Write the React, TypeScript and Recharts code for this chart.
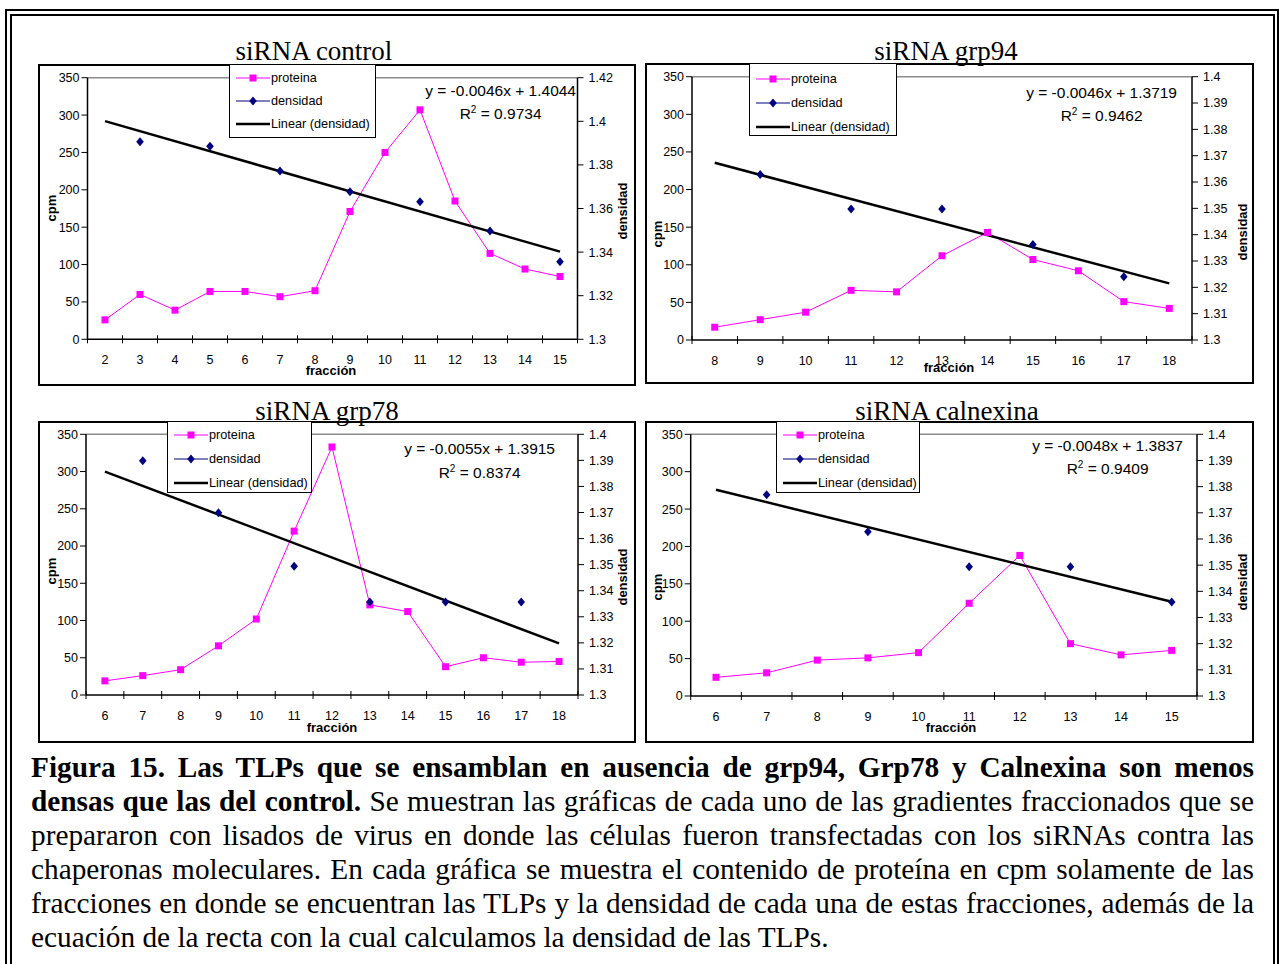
import React from "react";
import { ComposedChart, Line, XAxis, YAxis, ReferenceLine } from "recharts";

const SANS = '"Liberation Sans", Arial, sans-serif';
const SERIF = '"Liberation Serif", "Times New Roman", serif';

// --- siRNA control ---
const fraccionControl = [2, 3, 4, 5, 6, 7, 8, 9, 10, 11, 12, 13, 14, 15];
const proteinaControl = [26, 60, 39, 64, 64, 57, 65, 171, 250, 307, 185, 115, 94, 84];
const densidadControl = [null, 1.3906, null, 1.3886, null, 1.3772, null, 1.3677, null, 1.3631, null, 1.3497, null, 1.3356];
const tendenciaControl = [1.4001, null, null, null, null, null, null, null, null, null, null, null, null, 1.3402];

// --- siRNA grp94 ---
const fraccionGrp94 = [8, 9, 10, 11, 12, 13, 14, 15, 16, 17, 18];
const proteinaGrp94 = [17, 27, 37, 66, 64, 112, 143, 107, 92, 51, 42];
const densidadGrp94 = [null, 1.3629, null, 1.3498, null, 1.3498, null, 1.3363, null, 1.324, null];
const tendenciaGrp94 = [1.3673, null, null, null, null, null, null, null, null, null, 1.3215];

// --- siRNA grp78 ---
const fraccionGrp78 = [6, 7, 8, 9, 10, 11, 12, 13, 14, 15, 16, 17, 18];
const proteinaGrp78 = [19, 26, 34, 66, 102, 220, 333, 121, 112, 38, 50, 44, 45];
const densidadGrp78 = [null, 1.3899, null, 1.3699, null, 1.3494, null, 1.3357, null, 1.3357, null, 1.3357, null];
const tendenciaGrp78 = [1.3857, null, null, null, null, null, null, null, null, null, null, null, 1.3198];

// --- siRNA calnexina ---
const fraccionCalnexina = [6, 7, 8, 9, 10, 11, 12, 13, 14, 15];
const proteinaCalnexina = [25, 31, 48, 51, 58, 124, 188, 70, 55, 61];
const densidadCalnexina = [null, 1.3769, null, 1.3628, null, 1.3494, null, 1.3494, null, 1.3359];
const tendenciaCalnexina = [1.3788, null, null, null, null, null, null, null, null, 1.336];

const ticksCpm = [0, 50, 100, 150, 200, 250, 300, 350];
const ticksDensidadControl = [1.3, 1.32, 1.34, 1.36, 1.38, 1.4, 1.42];
const ticksDensidad = [1.3, 1.31, 1.32, 1.33, 1.34, 1.35, 1.36, 1.37, 1.38, 1.39, 1.4];

const paneles = [
  {
    titulo: "siRNA control", tituloPos: [314, 60],
    fracciones: fraccionControl, proteina: proteinaControl, densidad: densidadControl, tendencia: tendenciaControl,
    ticksDer: ticksDensidadControl, etiquetaProteina: "proteina",
    ecuacion: "y = -0.0046x + 1.4044", r2: "0.9734", ec: [576, 90, 113],
    frame: { x: 38, y: 64, w: 598, h: 322 }, plot: { l: 87.5, r: 577.5, t: 77.7, b: 339.3 },
    leyenda: { x: 229, y: 64, w: 147, h: 74, filas: [77, 100, 123] },
    cpm: [52, 208], dens: [623, 211], frac: [331, 371],
  },
  {
    titulo: "siRNA grp94", tituloPos: [946, 60],
    fracciones: fraccionGrp94, proteina: proteinaGrp94, densidad: densidadGrp94, tendencia: tendenciaGrp94,
    ticksDer: ticksDensidad, etiquetaProteina: "proteina",
    ecuacion: "y = -0.0046x + 1.3719", r2: "0.9462", ec: [1177, 92, 115],
    frame: { x: 645, y: 63, w: 609, h: 321 }, plot: { l: 692, r: 1192, t: 76.7, b: 340 },
    leyenda: { x: 749, y: 63, w: 148, h: 73, filas: [78, 102, 126] },
    cpm: [658, 234], dens: [1243, 232], frac: [949, 368],
  },
  {
    titulo: "siRNA grp78", tituloPos: [327, 420],
    fracciones: fraccionGrp78, proteina: proteinaGrp78, densidad: densidadGrp78, tendencia: tendenciaGrp78,
    ticksDer: ticksDensidad, etiquetaProteina: "proteina",
    ecuacion: "y = -0.0055x + 1.3915", r2: "0.8374", ec: [555, 448, 472],
    frame: { x: 38, y: 421, w: 598, h: 322 }, plot: { l: 86, r: 578, t: 434.3, b: 695 },
    leyenda: { x: 167, y: 421, w: 145, h: 72, filas: [434, 458, 482] },
    cpm: [52, 571], dens: [623, 577], frac: [332, 728],
  },
  {
    titulo: "siRNA calnexina", tituloPos: [947, 420],
    fracciones: fraccionCalnexina, proteina: proteinaCalnexina, densidad: densidadCalnexina, tendencia: tendenciaCalnexina,
    ticksDer: ticksDensidad, etiquetaProteina: "proteína",
    ecuacion: "y = -0.0048x + 1.3837", r2: "0.9409", ec: [1183, 445, 468],
    frame: { x: 645, y: 421, w: 609, h: 322 }, plot: { l: 690.7, r: 1197, t: 434.3, b: 696 },
    leyenda: { x: 776, y: 421, w: 144, h: 72, filas: [434, 458, 482] },
    cpm: [658, 587], dens: [1243, 582], frac: [951, 728],
  },
];

const lineasPie = [
  { negrita: "Figura 15. Las TLPs que se ensamblan en ausencia de grp94, Grp78 y Calnexina son menos", resto: "" },
  { negrita: "densas que las del control.", resto: " Se muestran las gráficas de cada uno de las gradientes fraccionados que se" },
  { negrita: "", resto: "prepararon con lisados de virus en donde las células fueron transfectadas con los siRNAs contra las" },
  { negrita: "", resto: "chaperonas moleculares. En cada gráfica se muestra el contenido de proteína en cpm solamente de las" },
  { negrita: "", resto: "fracciones en donde se encuentran las TLPs y la densidad de cada una de estas fracciones, además de la" },
  { negrita: "", resto: "ecuación de la recta con la cual calculamos la densidad de las TLPs." },
];

const MAGENTA = "#FF00FF";
const NAVY = "#000080";

function Cuadro(props: any) {
  const { cx, cy, value, index } = props;
  if (cx == null || cy == null || value == null) return <g key={`c${index}`} />;
  return <rect key={`c${index}`} x={cx - 3.5} y={cy - 3.5} width={7} height={7} fill={MAGENTA} />;
}

function Rombo(props: any) {
  const { cx, cy, value, index } = props;
  if (cx == null || cy == null || value == null) return <g key={`r${index}`} />;
  return <path key={`r${index}`} d={`M${cx},${cy - 4.5}L${cx + 3.8},${cy}L${cx},${cy + 4.5}L${cx - 3.8},${cy}Z`} fill={NAVY} />;
}

function TickFraccion(props: any) {
  const { x, y, payload, index, banda, total } = props;
  return (
    <g>
      <line x1={x - banda / 2} x2={x - banda / 2} y1={y - 4} y2={y + 4} stroke="#000" />
      {index === total - 1 && <line x1={x + banda / 2} x2={x + banda / 2} y1={y - 4} y2={y + 4} stroke="#000" />}
      <text x={x} y={y + 24.5} textAnchor="middle" fontSize={12.5} fill="#000">{payload.value}</text>
    </g>
  );
}

function Texto({ cx, cy, children, style, rotar }: any) {
  return (
    <div
      style={{
        position: "absolute", left: cx - 60, top: cy - 10, width: 120, height: 20, lineHeight: "20px",
        textAlign: "center", whiteSpace: "nowrap", transform: rotar ? "rotate(-90deg)" : undefined, ...style,
      }}
    >
      {children}
    </div>
  );
}

function Grafica({ p }: { p: any }) {
  const { frame, plot, leyenda } = p;
  const datos = p.fracciones.map((f: number, i: number) => ({
    fraccion: f, proteina: p.proteina[i], densidad: p.densidad[i], tendencia: p.tendencia[i],
  }));
  const banda = (plot.r - plot.l) / datos.length;
  const ticksDer: number[] = p.ticksDer;
  const eje = { stroke: "#000", strokeWidth: 1.5 };
  const tituloEje = { fontFamily: SANS, fontWeight: "bold", fontSize: 13 };

  return (
    <>
      <div style={{ position: "absolute", left: frame.x, top: frame.y, width: frame.w, height: frame.h, border: "2px solid #000", boxSizing: "border-box" }} />
      <div style={{ position: "absolute", left: p.tituloPos[0] - 150, top: p.tituloPos[1] - 24, width: 300, lineHeight: "30px", textAlign: "center", fontFamily: SERIF, fontSize: 27 }}>
        {p.titulo}
      </div>
      <div style={{ position: "absolute", left: frame.x, top: frame.y, fontFamily: SANS }}>
        <ComposedChart width={frame.w} height={frame.h} data={datos} margin={{ top: plot.t - frame.y, right: 0, bottom: 0, left: 0 }}>
          <XAxis
            dataKey="fraccion" scale="band" height={frame.y + frame.h - plot.b} interval={0} tickSize={0} tickMargin={0}
            tickLine={false} axisLine={eje}
            tick={(t: any) => <TickFraccion {...t} banda={banda} total={datos.length} />}
          />
          <YAxis
            yAxisId="cpm" width={plot.l - frame.x} domain={[0, 350]} ticks={ticksCpm} interval={0}
            axisLine={eje} tickLine={{ stroke: "#000" }} tick={{ fill: "#000", fontSize: 12.5 }}
          />
          <YAxis
            yAxisId="dens" orientation="right" width={frame.x + frame.w - plot.r}
            domain={[ticksDer[0], ticksDer[ticksDer.length - 1]]} ticks={ticksDer} interval={0} allowDataOverflow
            tickFormatter={(v: number) => String(Number(v.toFixed(2)))} tickMargin={5}
            axisLine={eje} tickLine={{ stroke: "#000" }} tick={{ fill: "#000", fontSize: 12.5 }}
          />
          <ReferenceLine yAxisId="cpm" y={350} stroke="#8c8c8c" strokeWidth={1.5} />
          <Line yAxisId="cpm" dataKey="proteina" stroke={MAGENTA} strokeWidth={1} dot={Cuadro} activeDot={false} isAnimationActive={false} />
          <Line yAxisId="dens" dataKey="tendencia" stroke="#000" strokeWidth={2.5} dot={false} activeDot={false} connectNulls isAnimationActive={false} />
          <Line yAxisId="dens" dataKey="densidad" stroke="none" dot={Rombo} activeDot={false} isAnimationActive={false} />
        </ComposedChart>
      </div>

      <Texto cx={p.cpm[0]} cy={p.cpm[1]} rotar style={tituloEje}>cpm</Texto>
      <Texto cx={p.dens[0]} cy={p.dens[1]} rotar style={tituloEje}>densidad</Texto>
      <Texto cx={p.frac[0]} cy={p.frac[1]} style={tituloEje}>fracción</Texto>

      <div style={{ position: "absolute", left: p.ec[0] - 250, top: p.ec[1] - 11, width: 250, textAlign: "right", fontFamily: SANS, fontSize: 15.5 }}>
        <div style={{ display: "inline-block", textAlign: "center", lineHeight: `${p.ec[2] - p.ec[1]}px` }}>
          <div>{p.ecuacion}</div>
          <div>R<sup style={{ fontSize: 10, lineHeight: 0 }}>2</sup> = {p.r2}</div>
        </div>
      </div>

      <div style={{ position: "absolute", left: leyenda.x, top: leyenda.y, width: leyenda.w, height: leyenda.h, border: "1px solid #000", boxSizing: "border-box", background: "#fff", fontFamily: SANS, fontSize: 12.7 }}>
        {[
          { nombre: p.etiquetaProteina, color: MAGENTA, ancho: 1, marca: "cuadro" },
          { nombre: "densidad", color: NAVY, ancho: 1, marca: "rombo" },
          { nombre: "Linear (densidad)", color: "#000", ancho: 2.5, marca: "" },
        ].map((s, i) => {
          const cy = leyenda.filas[i] - leyenda.y;
          return (
            <div key={s.nombre} style={{ position: "absolute", left: 0, top: cy - 10, height: 20, lineHeight: "20px", whiteSpace: "nowrap" }}>
              <svg width={42} height={20} style={{ position: "absolute", left: 5, top: 0 }}>
                <line x1={1} x2={35} y1={10} y2={10} stroke={s.color} strokeWidth={s.ancho} />
                {s.marca === "cuadro" && <rect x={14.5} y={6.5} width={7} height={7} fill={MAGENTA} />}
                {s.marca === "rombo" && <path d="M18,5.5L21.8,10L18,14.5L14.2,10Z" fill={NAVY} />}
              </svg>
              <span style={{ position: "absolute", left: 41 }}>{s.nombre}</span>
            </div>
          );
        })}
      </div>
    </>
  );
}

function PieDeFigura() {
  return (
    <div style={{ position: "absolute", left: 31, top: 750, width: 1223, fontFamily: SERIF, fontSize: 29.3, lineHeight: "34px", color: "#000" }}>
      {lineasPie.map((l, i) => {
        const ultima = i === lineasPie.length - 1;
        return (
          <div key={i} style={{ textAlign: ultima ? "left" : "justify", textAlignLast: ultima ? "left" : "justify", whiteSpace: "nowrap" }}>
            {l.negrita && <b>{l.negrita}</b>}
            {l.resto}
          </div>
        );
      })}
    </div>
  );
}

export default function App() {
  return (
    <div style={{ position: "absolute", left: 0, top: 0, width: 1279, height: 964, overflow: "hidden", background: "#fff" }}>
      <div style={{ position: "absolute", left: 5, top: 9, width: 1274, height: 1000, border: "2px solid #000", boxSizing: "border-box" }} />
      <div style={{ position: "absolute", left: 10, top: 14, width: 1265, height: 1000, border: "2px solid #000", boxSizing: "border-box" }} />
      {paneles.map((p) => (
        <Grafica key={p.titulo} p={p} />
      ))}
      <PieDeFigura />
    </div>
  );
}
